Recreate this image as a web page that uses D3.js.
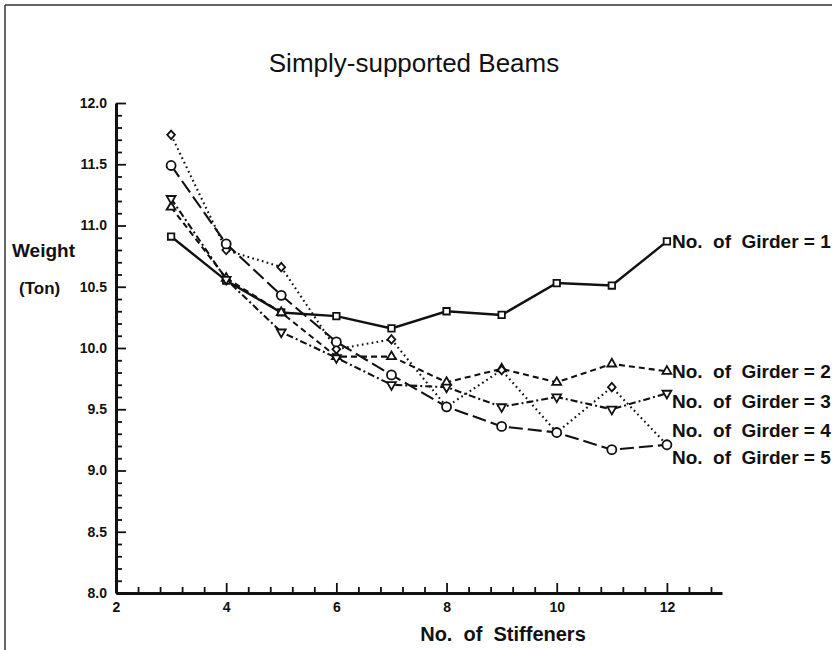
<!DOCTYPE html>
<html>
<head>
<meta charset="utf-8">
<script src="https://cdn.jsdelivr.net/npm/d3@7"></script>
<style>
  html, body { margin: 0; padding: 0; background: #fff; }
  svg { display: block; }
  text { font-family: "Liberation Sans", Arial, Helvetica, sans-serif; fill: #111; }
</style>
</head>
<body>
<svg id="chart" width="832" height="650"></svg>
<script>
// ---- data ----
const stiffeners = [3, 4, 5, 6, 7, 8, 9, 10, 11, 12];
const girder1 = [10.91, 10.55, 10.29, 10.26, 10.16, 10.30, 10.27, 10.53, 10.51, 10.87];
const girder2 = [11.15, 10.57, 10.29, 9.93, 9.93, 9.72, 9.83, 9.72, 9.87, 9.81];
const girder3 = [11.22, 10.56, 10.13, 9.92, 9.70, 9.68, 9.52, 9.60, 9.50, 9.63];
const girder4 = [11.74, 10.80, 10.66, 9.99, 10.07, 9.52, 9.82, 9.31, 9.68, 9.21];
const girder5 = [11.49, 10.85, 10.43, 10.05, 9.78, 9.52, 9.36, 9.31, 9.17, 9.21];
const seriesLabels = ["No.  of  Girder = 1", "No.  of  Girder = 2", "No.  of  Girder = 3", "No.  of  Girder = 4", "No.  of  Girder = 5"];
const labelLevels = [10.87, 9.81, 9.57, 9.33, 9.11];
const xTicks = [2, 4, 6, 8, 10, 12];
const yTicks = [8.0, 8.5, 9.0, 9.5, 10.0, 10.5, 11.0, 11.5, 12.0];
const titleText = "Simply-supported Beams";
const xTitle = "No.  of  Stiffeners";
const yTitle1 = "Weight";
const yTitle2 = "(Ton)";

// ---- setup ----
const svg = d3.select("#chart");
const x = d3.scaleLinear().domain([2, 13]).range([116, 722]);
const y = d3.scaleLinear().domain([8, 12]).range([593, 103]);

// frame (top and left edges)
svg.append("line").attr("x1", 5).attr("y1", 5).attr("x2", 832).attr("y2", 5)
  .attr("stroke", "#333").attr("stroke-width", 1.5);
svg.append("line").attr("x1", 5).attr("y1", 5).attr("x2", 5).attr("y2", 650)
  .attr("stroke", "#333").attr("stroke-width", 1.5);

// title
svg.append("text").attr("x", 414).attr("y", 72).attr("text-anchor", "middle")
  .style("font-size", "26px").text(titleText);

// x axis
const xMinor = d3.range(2.4, 13, 0.4).filter(v => Math.abs(v / 2 - Math.round(v / 2)) > 0.01);
const gx = svg.append("g").attr("transform", `translate(0,${y(8)})`);
gx.call(d3.axisBottom(x).tickValues(xTicks).tickSizeInner(-10).tickSizeOuter(0).tickPadding(9).tickFormat(d3.format("d")));
const gxm = svg.append("g").attr("transform", `translate(0,${y(8)})`);
gxm.call(d3.axisBottom(x).tickValues(xMinor).tickSizeInner(-6).tickSizeOuter(0).tickFormat(""));
gxm.select(".domain").remove();

// y axis
const yMinor = d3.range(8.1, 12, 0.1).filter(v => Math.abs(v * 2 - Math.round(v * 2)) > 0.01);
const gy = svg.append("g").attr("transform", `translate(${x(2)},0)`);
gy.call(d3.axisLeft(y).tickValues(yTicks).tickSizeInner(-10).tickSizeOuter(0).tickPadding(9).tickFormat(d3.format(".1f")));
const gym = svg.append("g").attr("transform", `translate(${x(2)},0)`);
gym.call(d3.axisLeft(y).tickValues(yMinor).tickSizeInner(-6).tickSizeOuter(0).tickFormat(""));
gym.select(".domain").remove();

svg.selectAll(".domain").attr("stroke", "#111").attr("stroke-width", 3);
svg.selectAll(".tick line").attr("stroke", "#111").attr("stroke-width", 1.8);
svg.selectAll(".tick text").style("font-size", "14px").style("font-weight", "bold")
  .style("font-family", "'Liberation Sans', Arial, sans-serif").attr("fill", "#111");

// axis titles
svg.append("text").attr("x", 503).attr("y", 641).attr("text-anchor", "middle")
  .attr("xml:space", "preserve").style("white-space", "pre")
  .style("font-size", "20px").style("font-weight", "bold").text(xTitle);
svg.append("text").attr("x", 12).attr("y", y(10.80) + 7)
  .style("font-size", "19px").style("font-weight", "bold").text(yTitle1);
svg.append("text").attr("x", 19).attr("y", y(10.49) + 6)
  .style("font-size", "17px").style("font-weight", "bold").text(yTitle2);

// series
const diamond = { draw(ctx, size) { const r = Math.sqrt(size) / 2 * 1.35; ctx.moveTo(0, -r); ctx.lineTo(r * 0.9, 0); ctx.lineTo(0, r); ctx.lineTo(-r * 0.9, 0); ctx.closePath(); } };
const series = [
  { vals: girder1, dash: null, sym: d3.symbolSquare, size: 42, rot: 0 },
  { vals: girder2, dash: "6,4", sym: d3.symbolTriangle, size: 34, rot: 0 },
  { vals: girder3, dash: "7,3,2,3", sym: d3.symbolTriangle, size: 34, rot: 180 },
  { vals: girder4, dash: "1.7,3.3", sym: diamond, size: 40, rot: 0 },
  { vals: girder5, dash: "14,5", sym: d3.symbolCircle, size: 64, rot: 0 }
];
const line = d3.line().x((d, i) => x(stiffeners[i])).y(d => y(d));

series.forEach((s, k) => {
  const p = svg.append("path").datum(s.vals).attr("d", line)
    .attr("fill", "none").attr("stroke", "#111").attr("stroke-width", k === 0 ? 2.4 : 2.1);
  if (s.dash) p.attr("stroke-dasharray", s.dash);
});
series.forEach((s) => {
  svg.append("g").selectAll("path").data(s.vals).join("path")
    .attr("d", d3.symbol().type(s.sym).size(s.size))
    .attr("transform", (d, i) => `translate(${x(stiffeners[i])},${y(d)}) rotate(${s.rot})`)
    .attr("fill", "#fff").attr("stroke", "#111").attr("stroke-width", 1.8);
});

// series labels
svg.append("g").selectAll("text").data(seriesLabels).join("text")
  .attr("x", x(12) + 5).attr("y", (d, i) => y(labelLevels[i]) + 7)
  .style("font-size", "19px").style("font-weight", "bold").style("white-space", "pre")
  .attr("xml:space", "preserve")
  .text(d => d);
</script>
</body>
</html>
